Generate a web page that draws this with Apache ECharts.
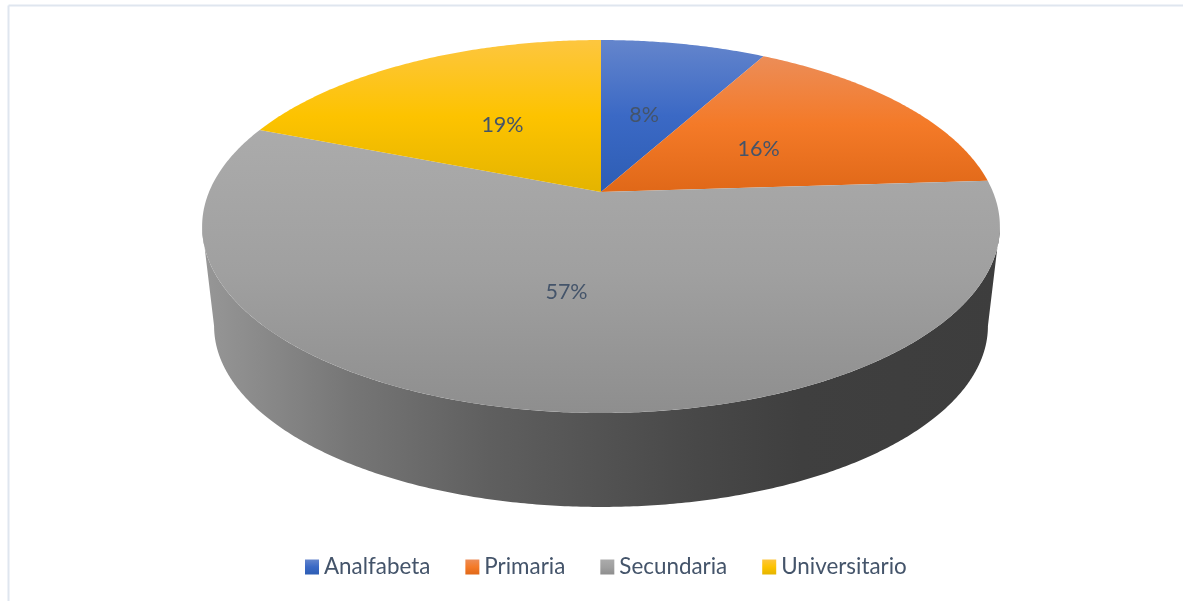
<!DOCTYPE html>
<html>
<head>
<meta charset="utf-8">
<style>html,body{margin:0;padding:0;background:#fff}#chart{width:1183px;height:601px}</style>
<script src="https://cdn.jsdelivr.net/npm/echarts@6/dist/echarts.min.js"></script>
</head>
<body>
<div id="chart"></div>
<script>
const categories = ['Analfabeta', 'Primaria', 'Secundaria', 'Universitario'];
const shares = [8, 16, 57, 19];
const sliceStops = [
  ['#6485cc', '#3b69c5', '#2d5db4'],
  ['#ec8d58', '#f47a28', '#e06818'],
  ['#ababab', '#a0a0a0', '#8e8e8e'],
  ['#fdc63f', '#fdc300', '#e4b400']
];
const wallStops = [
  [0, '#979797'], [0.185, '#767676'], [0.36, '#5f5f5f'],
  [0.62, '#484848'], [0.75, '#3f3f3f'], [1, '#3d3d3d']
];
const labelColor = '#44546a';
const labelRadius = [0.48, 0.5, 0.51, 0.48];
const labelNudge = [0, 3, 0, 0];

// Perspective view of the disc: unit circle (u across, v towards the viewer).
const disc = { cx: 601, cy: 192, a: 392, b: 180.1, p: 0.185 };
const base = { cy: 292.6, scale: 0.97 };

function project(deg, r, ring) {
  const t = deg * Math.PI / 180;
  const u = r * Math.sin(t), v = -r * Math.cos(t);
  const w = 1 - disc.p * v;
  const s = ring ? ring.scale : 1;
  const cy = ring ? ring.cy : disc.cy;
  return [disc.cx + s * disc.a * u / w, cy + s * disc.b * v / w];
}

function arcPoints(from, to, ring) {
  const n = Math.max(8, Math.ceil(Math.abs(to - from) * 2));
  const pts = [];
  for (let i = 0; i <= n; i++) pts.push(project(from + (to - from) * i / n, 1, ring));
  return pts;
}

function gradient(stops) {
  return new echarts.graphic.LinearGradient(0, 0, 0, 1, [
    { offset: 0, color: stops[0] },
    { offset: 0.5, color: stops[1] },
    { offset: 1, color: stops[2] }
  ]);
}

const total = shares.reduce((a, b) => a + b, 0);
const startShare = shares.map((_, i) => shares.slice(0, i).reduce((a, b) => a + b, 0));

// Side wall: front half of the lower ring, closed along the upper ring's front.
function wallShape() {
  const side = Math.acos(-disc.p) * 180 / Math.PI;
  const points = arcPoints(side, 360 - side, base).concat(arcPoints(360 - side, side));
  return {
    type: 'polygon',
    shape: { points },
    style: {
      fill: new echarts.graphic.LinearGradient(0, 0, 1, 0,
        wallStops.map(s => ({ offset: s[0], color: s[1] })))
    }
  };
}

function sliceRenderer(index) {
  return function (params, api) {
    const value = api.value(0);
    const start = startShare[index] / total * 360;
    const end = start + value / total * 360;
    const children = [];
    if (categories[index] === 'Secundaria') children.push(wallShape());
    children.push({
      type: 'polygon',
      shape: { points: [[disc.cx, disc.cy]].concat(arcPoints(start, end)) },
      style: { fill: gradient(sliceStops[index]) }
    });
    const at = project((start + end) / 2, labelRadius[index]);
    children.push({
      type: 'text',
      x: at[0],
      y: at[1] + labelNudge[index],
      style: {
        text: value + '%',
        fill: labelColor,
        font: '21.5px Lato',
        align: 'center',
        verticalAlign: 'middle'
      }
    });
    return { type: 'group', children };
  };
}

const chart = echarts.init(document.getElementById('chart'), null, { renderer: 'canvas' });
chart.setOption({
  animation: false,
  backgroundColor: '#ffffff',
  legend: {
    left: 305,
    top: 556,
    selectedMode: false,
    icon: 'rect',
    itemWidth: 14,
    itemHeight: 15,
    itemGap: 35,
    padding: 0,
    data: categories,
    textStyle: { color: labelColor, fontFamily: 'Lato', fontSize: 22.4 }
  },
  graphic: [
    { type: 'line', silent: true, shape: { x1: 8.5, y1: 5.5, x2: 1183, y2: 5.5 }, style: { stroke: '#dfe6ef', lineWidth: 2 } },
    { type: 'line', silent: true, shape: { x1: 8.5, y1: 5.5, x2: 8.5, y2: 601 }, style: { stroke: '#dfe6ef', lineWidth: 2 } }
  ],
  series: categories.map((name, i) => ({
    type: 'custom',
    name,
    coordinateSystem: 'none',
    silent: true,
    itemStyle: { color: gradient(sliceStops[i]) },
    renderItem: sliceRenderer(i),
    data: [[shares[i]]]
  }))
});
</script>
</body>
</html>
